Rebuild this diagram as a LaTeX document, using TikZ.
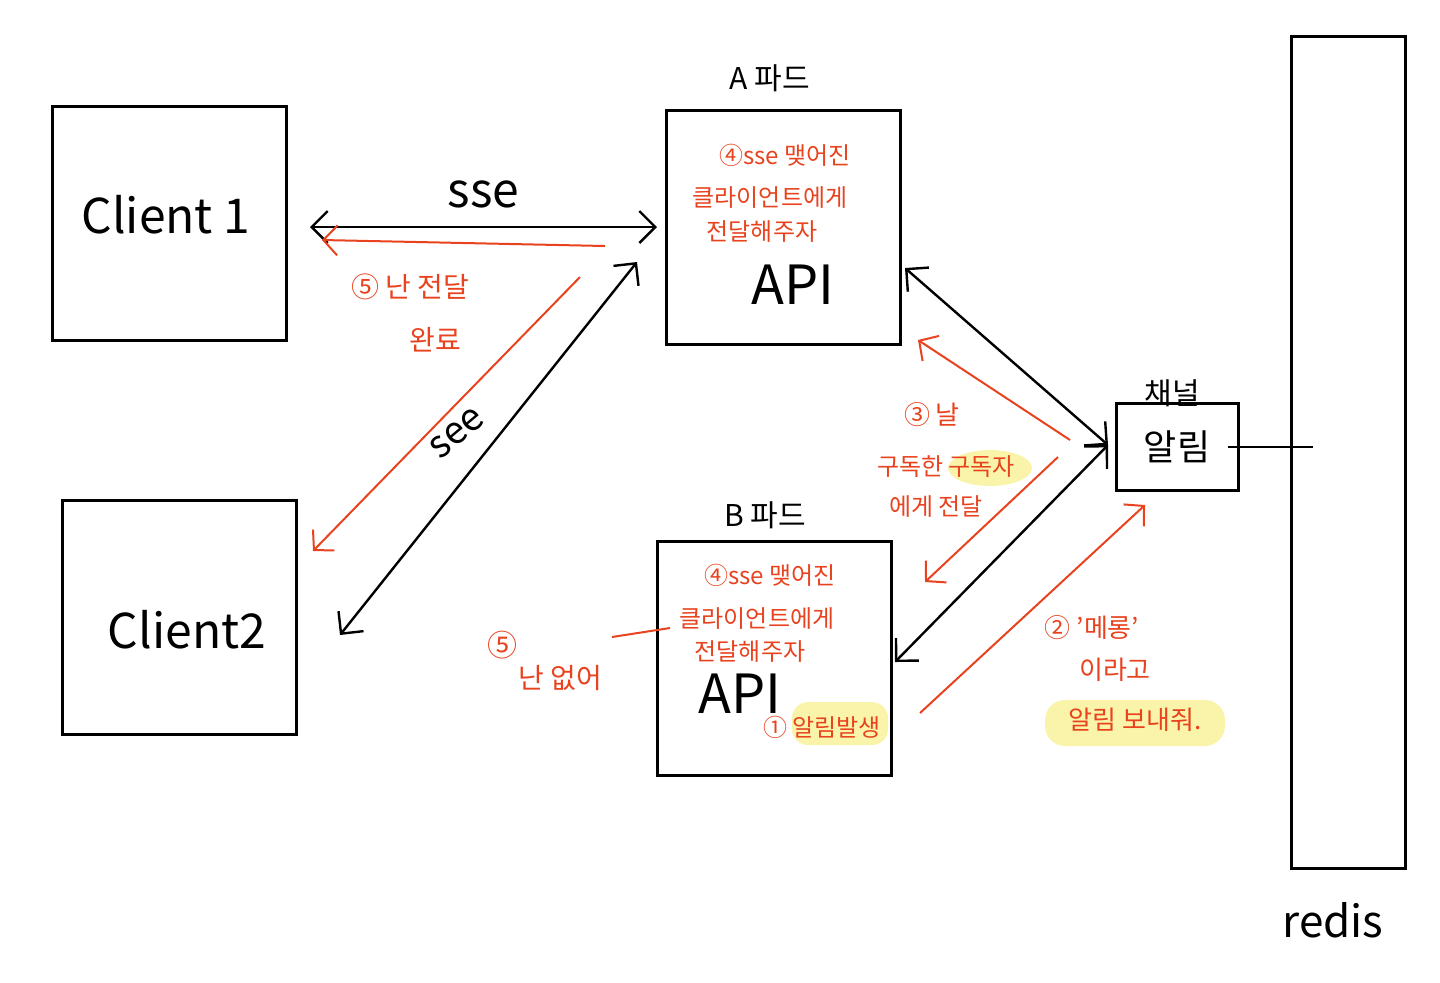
\documentclass[tikz,border=0pt]{standalone}
\usepackage{fontspec}
\setmainfont{Noto Sans CJK KR}
\usetikzlibrary{arrows.meta}
\definecolor{pen}{RGB}{232,66,30}
\definecolor{marker}{RGB}{250,244,170}
\begin{document}
\begin{tikzpicture}[x=0.5pt,y=-0.5pt,
  box/.style={draw,line width=1.5pt,inner sep=0pt},
  conn/.style={line width=1.2pt,{Straight Barb[length=8pt,width=16pt]}-{Straight Barb[length=8pt,width=16pt]}},
  redarrow/.style={draw=pen,line width=1pt,-{Straight Barb[length=7pt,width=15pt]}},
  note/.style={text=pen,inner sep=0pt,font=\fontsize{12}{14}\selectfont},
  big/.style={inner sep=0pt,font=\fontsize{#1}{#1}\selectfont}]
\useasboundingbox (0,0) rectangle (1440,982);
% highlights
\fill[marker] (990,468) ellipse [x radius=21pt, y radius=9pt];
\fill[marker,rounded corners=10pt] (1045,700) rectangle (1225,746);
\fill[marker,rounded corners=8pt] (792,702) rectangle (888,745);
% boxes
\node[box,minimum width=117pt,minimum height=117pt] (client1) at (169,223) {};
\node[box,minimum width=117pt,minimum height=117pt] (client2) at (179,617) {};
\node[big=24] (c1text) at (166,215) {Client 1};
\node[big=24] (c2text) at (187,630) {Client2};
\node[box,minimum width=117pt,minimum height=117pt] (apod) at (783,227) {};
\node[box,minimum width=117pt,minimum height=117pt] (bpod) at (774,658) {};
\node[box,minimum width=61pt,minimum height=43.5pt,big=18] (channel) at (1177,447) {알림};
\node[box,minimum width=57pt,minimum height=416pt] (redis) at (1348,452) {};
\node[big=15] (alabel) at (770,78) {A 파드};
\node[big=15] (blabel) at (765,515) {B 파드};
\node[big=15] (chlabel) at (1172,393) {채널};
\node[big=22] (rlabel) at (1333,920) {redis};
% inside the pods
\node[note] (anote1) at (785,155) {④sse 맺어진};
\node[note] (anote2) at (770,198) {클라이언트에게};
\node[note] (anote3) at (762,232) {전달해주자};
\node[big=27] (aapi) at (793,285) {API};
\node[note] (bnote1) at (770,575) {④sse 맺어진};
\node[note] (bnote2) at (757,619) {클라이언트에게};
\node[note] (bnote3) at (750,651) {전달해주자};
\node[big=27] (bapi) at (740,694) {API};
\node[note] (bnote4) at (822,727) {① 알림발생};
% end points
\coordinate (sseL) at (310,227);
\coordinate (sseR) at (657,227);
\coordinate (doneR) at (605,246);
\coordinate (doneL) at (322,240);
\coordinate (downS) at (580,277);
\coordinate (downE) at (313,551);
\coordinate (seeL) at (340,635);
\coordinate (seeR) at (637,262);
\coordinate (hub) at (1108,445);
\coordinate (aend) at (905,268);
\coordinate (bend) at (895,662);
\coordinate (subA1) at (1070,440);
\coordinate (subA2) at (918,340);
\coordinate (subB1) at (1058,457);
\coordinate (subB2) at (925,582);
\coordinate (pubS) at (920,713);
\coordinate (pubE) at (1145,505);
\coordinate (noneL) at (612,637);
\coordinate (noneR) at (670,628);
\coordinate (tapR) at (1313,447);
% connectors
\draw[conn] (sseL) -- node[above=9pt,big=24] {sse} (sseR);
\draw[conn] (seeL) -- (seeR);
\node[big=19,rotate=40] (seetext) at (457,433) {see};
\draw[conn] (aend) -- (hub);
\draw[conn] (hub) -- (bend);
\draw[line width=1.2pt] ([xshift=-6pt]channel.east) -- (tapR);
\draw[redarrow] (doneR) -- (doneL);
\draw[redarrow] (downS) -- (downE);
\draw[redarrow] (subA1) -- (subA2);
\draw[redarrow] (subB1) -- (subB2);
\draw[redarrow] (pubS) -- (pubE);
\draw[draw=pen,line width=1pt] (noneL) -- (noneR);
% red notes
\node[note,font=\fontsize{14}{16}\selectfont] (done1) at (410,287) {⑤ 난 전달};
\node[note,font=\fontsize{14}{16}\selectfont] (done2) at (435,340) {완료};
\node[note,font=\fontsize{15}{16}\selectfont] (none1) at (502,645) {⑤};
\node[note,font=\fontsize{14}{16}\selectfont] (none2) at (560,678) {난 없어};
\node[note,font=\fontsize{13}{15}\selectfont] (sub1) at (932,415) {③ 날};
\node[note,font=\fontsize{12}{14}\selectfont] (sub2) at (946,467) {구독한 구독자};
\node[note,font=\fontsize{12}{14}\selectfont] (sub3) at (936,506) {에게 전달};
\node[note,font=\fontsize{13}{15}\selectfont] (pub1) at (1092,628) {② '메롱'};
\node[note,font=\fontsize{13}{15}\selectfont] (pub2) at (1115,670) {이라고};
\node[note,font=\fontsize{13}{15}\selectfont] (pub3) at (1135,720) {알림 보내줘.};
\end{tikzpicture}
\end{document}
